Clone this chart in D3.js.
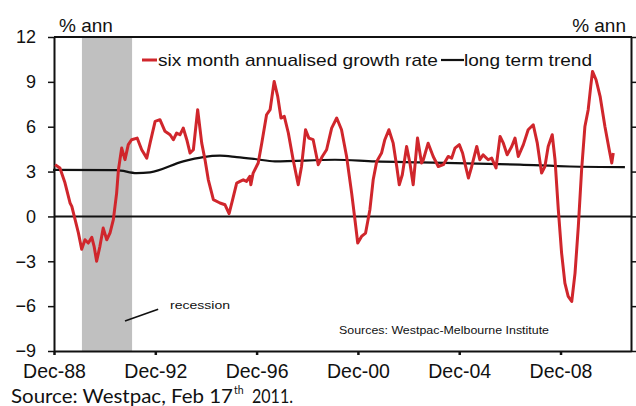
<!DOCTYPE html>
<html>
<head>
<meta charset="utf-8">
<script src="https://cdn.jsdelivr.net/npm/d3@7"></script>
<style>
  html, body { margin: 0; padding: 0; background: #fff; }
  svg { display: block; }
  text { font-family: "Liberation Sans", Arial, sans-serif; fill: #111; }
</style>
</head>
<body>
<svg id="chart" width="636" height="406"></svg>
<script>
// ---- data (decimal years, % annualised) ----
const growthDates = [1988.96,1989.15,1989.35,1989.55,1989.62,1989.75,1989.88,1990.01,1990.14,1990.27,1990.41,1990.50,1990.60,1990.73,1990.86,1991.00,1991.13,1991.26,1991.39,1991.46,1991.59,1991.72,1991.85,1991.98,1992.20,1992.38,1992.58,1992.71,1992.91,1993.10,1993.30,1993.50,1993.63,1993.76,1993.89,1994.02,1994.16,1994.29,1994.42,1994.59,1994.75,1994.88,1995.01,1995.21,1995.47,1995.67,1995.83,1995.97,1996.13,1996.26,1996.39,1996.52,1996.65,1996.69,1996.78,1996.98,1997.12,1997.31,1997.45,1997.61,1997.75,1997.88,1998.01,1998.17,1998.36,1998.56,1998.69,1998.85,1998.98,1999.15,1999.35,1999.51,1999.68,1999.88,2000.08,2000.27,2000.47,2000.67,2000.80,2000.91,2001.06,2001.22,2001.39,2001.52,2001.66,2001.85,2001.98,2002.14,2002.31,2002.45,2002.55,2002.67,2002.84,2002.97,2003.10,2003.27,2003.43,2003.50,2003.69,2003.89,2004.09,2004.29,2004.48,2004.62,2004.75,2004.92,2005.05,2005.14,2005.28,2005.41,2005.61,2005.73,2005.86,2006.06,2006.20,2006.37,2006.53,2006.66,2006.81,2006.99,2007.12,2007.25,2007.45,2007.64,2007.84,2008.00,2008.17,2008.30,2008.43,2008.59,2008.70,2008.83,2008.96,2009.09,2009.22,2009.36,2009.49,2009.62,2009.75,2009.88,2010.01,2010.11,2010.18,2010.32,2010.48,2010.67,2010.84,2010.94,2011.00];
const growthValues = [3.46,3.24,2.25,0.9,0.67,-0.22,-1.1,-2.2,-1.56,-1.78,-1.4,-2.0,-3.0,-2.0,-0.78,-1.56,-1.1,-0.22,1.56,3.1,4.57,3.8,4.8,5.13,5.24,4.46,3.9,4.9,6.36,6.47,5.69,5.46,5.13,5.58,5.46,5.91,5.13,4.24,4.46,7.14,4.9,3.79,2.45,1.12,0.9,0.78,0.18,1.12,2.23,2.34,2.45,2.34,2.68,2.12,2.9,3.57,4.9,6.8,7.14,9.03,8.03,6.58,6.69,5.58,3.79,2.12,3.34,5.8,5.24,5.13,3.46,4.01,4.46,5.91,6.58,5.8,4.01,1.56,-0.22,-1.78,-1.34,-1.11,0.45,2.45,3.68,4.24,5.13,5.8,4.9,3.34,2.12,2.79,4.68,3.57,2.12,5.24,3.57,3.79,4.9,4.01,3.34,3.46,4.01,3.9,4.57,4.8,4.24,3.57,2.57,3.34,4.68,3.79,4.12,3.79,3.9,3.24,5.35,4.9,4.12,4.68,5.24,4.01,4.8,5.8,6.13,4.9,2.9,3.34,4.68,5.46,3.79,0.45,-2.45,-4.46,-5.35,-5.69,-3.79,-0.67,3.12,6.02,7.14,8.7,9.7,9.14,8.03,6.02,4.46,3.57,4.24];

const trendDates  = [1988.88,1991.39,1992.18,1992.71,1994.02,1994.81,1995.47,1996.13,1996.85,1997.64,2000.01,2001.59,2003.43,2007.31,2009.29,2011.46];
const trendValues = [3.12,3.1,2.9,2.95,3.68,3.97,4.06,3.97,3.84,3.68,3.79,3.68,3.61,3.46,3.34,3.3];

const recession = [1990.02, 1992.0];
const yTicks = [-9, -6, -3, 0, 3, 6, 9, 12];
const xTickDates  = [1988.917, 1992.917, 1996.917, 2000.917, 2004.917, 2008.917];
const xTickLabels = ["Dec-88", "Dec-92", "Dec-96", "Dec-00", "Dec-04", "Dec-08"];
const seriesNames = ["six month annualised growth rate", "long term trend"];
const recessionNote = {label: "recession", from: [1991.72, -7.0], to: [1993.03, -6.2]};

// ---- layout ----
const svg = d3.select("#chart");
const L = 54, R = 631, T = 37, B = 351;
const x = d3.scaleLinear().domain([1988.917, 2011.70]).range([L, R]);
const y = d3.scaleLinear().domain([-9, 12]).range([B, T]);
const RED = "#d0262c";

// recession band
svg.append("rect")
  .attr("x", x(recession[0])).attr("y", T)
  .attr("width", x(recession[1]) - x(recession[0]))
  .attr("height", B - T)
  .attr("fill", "#c0c0c0");

// zero line
svg.append("line")
  .attr("x1", L).attr("x2", R).attr("y1", y(0)).attr("y2", y(0))
  .attr("stroke", "#111").attr("stroke-width", 2);

// top border
svg.append("line")
  .attr("x1", L).attr("x2", R + 1).attr("y1", T).attr("y2", T)
  .attr("stroke", "#111").attr("stroke-width", 2);

// left axis
const yAxisL = d3.axisLeft(y).tickValues(yTicks).tickSize(6).tickSizeOuter(0).tickPadding(12);
const gl = svg.append("g").attr("transform", `translate(${L},0)`).call(yAxisL);
gl.select(".domain").attr("stroke", "#111").attr("stroke-width", 2);
gl.selectAll(".tick line").attr("stroke", "#111").attr("stroke-width", 1.5);
gl.selectAll(".tick text").attr("font-size", 18).attr("fill", "#111")
  .attr("font-family", "'Liberation Sans', Arial, sans-serif");

// right axis
const yAxisR = d3.axisRight(y).tickValues(yTicks).tickSize(5).tickSizeOuter(0).tickFormat("");
const gr = svg.append("g").attr("transform", `translate(${R},0)`).call(yAxisR);
gr.select(".domain").attr("stroke", "#111").attr("stroke-width", 2);
gr.selectAll(".tick line").attr("stroke", "#111").attr("stroke-width", 1.5);

// bottom axis
const xAxis = d3.axisBottom(x).tickValues(xTickDates)
  .tickFormat((d, i) => xTickLabels[i]).tickSize(4).tickSizeOuter(0).tickPadding(9);
const gb = svg.append("g").attr("transform", `translate(0,${B})`).call(xAxis);
gb.select(".domain").attr("stroke", "#111").attr("stroke-width", 2);
gb.selectAll(".tick line").attr("stroke", "#111").attr("stroke-width", 2.5);
gb.selectAll(".tick text").attr("font-size", 19.5).attr("fill", "#1a1a2a")
  .attr("font-family", "'Liberation Sans', Arial, sans-serif");

// trend line
const trend = trendDates.map((d, i) => [d, trendValues[i]]);
svg.append("path")
  .datum(trend)
  .attr("fill", "none").attr("stroke", "#111").attr("stroke-width", 2.2)
  .attr("d", d3.line().x(d => x(d[0])).y(d => y(d[1])).curve(d3.curveMonotoneX));

// growth line
const growth = growthDates.map((d, i) => [d, growthValues[i]]);
svg.append("path")
  .datum(growth)
  .attr("fill", "none").attr("stroke", RED).attr("stroke-width", 3)
  .attr("stroke-linejoin", "round")
  .attr("d", d3.line().x(d => x(d[0])).y(d => y(d[1])));

// unit labels
svg.append("text").attr("x", 59).attr("y", 32).attr("font-size", 19).text("% ann");
svg.append("text").attr("x", 626).attr("y", 32).attr("font-size", 19)
  .attr("text-anchor", "end").text("% ann");

// legend
svg.append("line").attr("x1", 142).attr("x2", 157).attr("y1", 60).attr("y2", 60)
  .attr("stroke", RED).attr("stroke-width", 3);
svg.append("text").attr("x", 158).attr("y", 66).attr("font-size", 17)
  .attr("textLength", 280).attr("lengthAdjust", "spacingAndGlyphs").text(seriesNames[0]);
svg.append("line").attr("x1", 441).attr("x2", 464).attr("y1", 60).attr("y2", 60)
  .attr("stroke", "#111").attr("stroke-width", 2.2);
svg.append("text").attr("x", 464).attr("y", 66).attr("font-size", 17)
  .attr("textLength", 128).attr("lengthAdjust", "spacingAndGlyphs").text(seriesNames[1]);

// recession annotation
svg.append("line")
  .attr("x1", x(recessionNote.from[0])).attr("y1", y(recessionNote.from[1]))
  .attr("x2", x(recessionNote.to[0])).attr("y2", y(recessionNote.to[1]))
  .attr("stroke", "#111").attr("stroke-width", 1.6);
svg.append("text").attr("x", 170).attr("y", 309).attr("font-size", 11.5)
  .attr("textLength", 60).attr("lengthAdjust", "spacingAndGlyphs")
  .attr("fill", "#222").text(recessionNote.label);

// sources inside plot
svg.append("text").attr("x", 339).attr("y", 334).attr("font-size", 11)
  .attr("textLength", 210).attr("lengthAdjust", "spacingAndGlyphs")
  .attr("fill", "#555").text("Sources: Westpac-Melbourne Institute");

// bottom source line
const src = svg.append("text").attr("y", 403)
  .style("font-family", "Lato, 'Open Sans', sans-serif").attr("font-size", 20).attr("fill", "#111");
src.append("tspan").attr("x", 11).attr("textLength", 222).attr("lengthAdjust", "spacingAndGlyphs")
  .text("Source: Westpac, Feb 17");
src.append("tspan").attr("x", 234).attr("dy", -9).attr("font-size", 10.5).text("th");
src.append("tspan").attr("x", 252).attr("dy", 9).attr("textLength", 41)
  .attr("lengthAdjust", "spacingAndGlyphs").text("2011.");
</script>
</body>
</html>
